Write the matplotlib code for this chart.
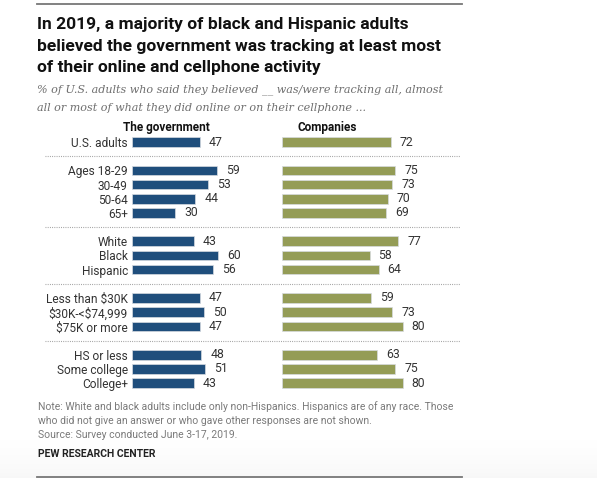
import matplotlib
matplotlib.use("Agg")
import numpy as np
import matplotlib.pyplot as plt
import matplotlib.transforms as mtransforms
from matplotlib.lines import Line2D

plt.rcParams["text.parse_math"] = False

# ---- data ----
categories = ["U.S. adults",
              "Ages 18-29", "30-49", "50-64", "65+",
              "White", "Black", "Hispanic",
              "Less than $30K", "$30K-<$74,999", "$75K or more",
              "HS or less", "Some college", "College+"]
groups = [1, 4, 3, 3, 3]
government = [47, 59, 53, 44, 30, 43, 60, 56, 47, 50, 47, 48, 51, 43]
companies = [72, 75, 73, 70, 69, 77, 58, 64, 59, 73, 80, 63, 75, 80]
col_titles = ["The government", "Companies"]

title_lines = ["In 2019, a majority of black and Hispanic adults",
               "believed the government was tracking at least most",
               "of their online and cellphone activity"]
subtitle_lines = ["% of U.S. adults who said they believed __ was/were tracking all, almost",
                  "all or most of what they did online or on their cellphone ..."]
note_lines = ["Note: White and black adults include only non-Hispanics. Hispanics are of any race. Those",
              "who did not give an answer or who gave other responses are not shown.",
              "Source: Survey conducted June 3-17, 2019."]
credit = "PEW RESEARCH CENTER"

GOV_COLOR = "#1f4e7c"
COMP_COLOR = "#949c56"
TEXT = "#333333"

W, H = 597, 478
fig = plt.figure(figsize=(W / 100, H / 100), dpi=100)
fig.patch.set_facecolor("white")

def fx(px):
    return px / W

def fy(py):
    return 1 - py / H

# faint screenshot shading at the bottom (white at top, light grey at bottom)
bg = fig.add_axes([0, fy(478), 1, 45 / H], zorder=-10)
grad = np.linspace(0.0, 1.0, 80).reshape(-1, 1) ** 1.6
bg.imshow(grad, aspect="auto", cmap="Greys", vmin=0, vmax=16, extent=(0, 1, 0, 1),
          interpolation="bilinear")
bg.set_axis_off()

# row positions (group gaps of one row)
pos = []
k = 0
seps = []
for gi, n in enumerate(groups):
    if gi > 0:
        seps.append(k)
        k += 1
    for _ in range(n):
        pos.append(k)
        k += 1

# vertical mapping: pixel = 142 + k*14.18
y0_px, unit = 142.0, 14.18
ax_top_px, ax_bot_px = 120.0, 400.0
ylim_top = (ax_top_px - y0_px) / unit
ylim_bot = (ax_bot_px - y0_px) / unit

def make_ax(left_px, px_per_unit):
    width_px = 100 * px_per_unit
    ax = fig.add_axes([fx(left_px), fy(ax_bot_px), width_px / W, (ax_bot_px - ax_top_px) / H])
    ax.set_xlim(0, 100)
    ax.set_ylim(ylim_bot, ylim_top)
    for s in ax.spines.values():
        s.set_visible(False)
    ax.set_xticks([])
    ax.patch.set_alpha(0)
    return ax

ax1 = make_ax(132, 1.44)
ax2 = make_ax(282, 1.51)

lab_font = dict(family="Roboto", size=8.6, color=TEXT)
val_font = dict(family="Roboto", size=8.8, color=TEXT)

for ax, vals, col in ((ax1, government, GOV_COLOR), (ax2, companies, COMP_COLOR)):
    ax.barh(pos, vals, height=0.68, color=col, edgecolor="#d6dbe0", linewidth=0.5)
    for p, v in zip(pos, vals):
        ax.annotate(str(v), (v, p), xytext=(6.5, 0), textcoords="offset points",
                    va="center", ha="left", **val_font)

ax1.set_yticks(pos)
ax1.set_yticklabels(categories, **lab_font)
ax1.tick_params(axis="y", length=0, pad=3)
ax2.set_yticks([])

# column headers
ax1.text(24, -0.99, col_titles[0], ha="center", va="center", family="Roboto",
         weight="bold", size=8.5, color="#111111")
ax2.text(10, -0.99, col_titles[1], ha="left", va="center", family="Roboto",
         weight="bold", size=8.5, color="#111111")

# dotted separators
tr = mtransforms.blended_transform_factory(fig.transFigure, ax1.transData)
for s in seps:
    fig.add_artist(Line2D([fx(45), fx(460)], [s, s], transform=tr, color="#9a9a9a",
                          lw=0.8, linestyle=(0, (0.8, 1.2))))

# title
for i, line in enumerate(title_lines):
    fig.text(fx(37), fy(25 + i * 21), line, ha="left", va="center", family="Roboto",
             weight="bold", size=12.5, color="#111111")
for i, line in enumerate(subtitle_lines):
    fig.text(fx(37), fy(90 + i * 18), line, ha="left", va="center", family="DejaVu Serif",
             style="italic", size=8.0, color="#6e6e6e")
for i, line in enumerate(note_lines):
    fig.text(fx(38), fy(407 + i * 14), line, ha="left", va="center", family="Roboto",
             size=7.5, color="#7a7a7a")
fig.text(fx(38), fy(454), credit, ha="left", va="center", family="Roboto",
         weight="bold", size=7.5, color="#222222")

# rules top & bottom
for py in (4, 477):
    fig.add_artist(Line2D([fx(37), fx(462)], [fy(py), fy(py)], transform=fig.transFigure,
                          color="#777777", lw=1.3))

fig.savefig("out.png", dpi=100, facecolor="white")
